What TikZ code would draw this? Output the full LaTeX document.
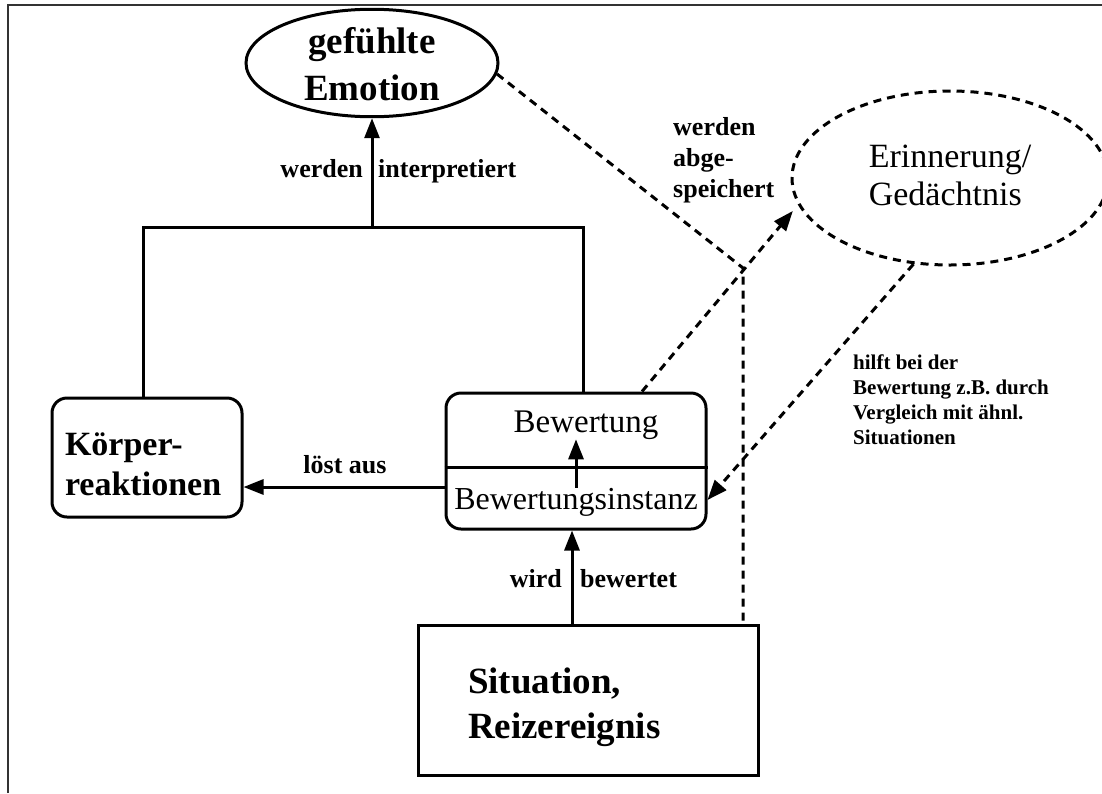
\documentclass[tikz,border=0pt]{standalone}
\usepackage{fontspec}
\setmainfont{Liberation Serif}
\usetikzlibrary{shapes.geometric,arrows.meta}
\begin{document}
\begin{tikzpicture}[x=1pt,y=-1pt,
  box/.style={draw, line width=3pt, inner sep=0pt},
  conn/.style={line width=3pt},
  arr/.style={line width=3pt, -{Triangle[length=20pt,width=15pt]}},
  dl/.style={line width=3pt, dash pattern=on 8pt off 6pt},
  darr/.style={dl, -{Triangle[length=20pt,width=15pt]}},
  lab/.style={font=\bfseries\fontsize{26}{31}\selectfont, inner sep=0pt},
]
\useasboundingbox (0,0) rectangle (1102,793);
\clip (0,0) rectangle (1102,793);
\fill[white] (0,0) rectangle (1102,793);
% frame
\draw[line width=1.5pt, black!80] (8,793) -- (8,5) -- (1102,5);

% nodes
\node[box, ellipse, minimum width=252pt, minimum height=100pt, align=center,
      font=\bfseries\fontsize{37}{47}\selectfont] (emo) at (372,63)
      {\rule{0pt}{28pt}gefühlte\\Emotion\rule[-1pt]{0pt}{1pt}};

\node[box, rounded corners=15pt, minimum height=119pt, text width=164pt, inner xsep=13pt,
      align=left, font=\bfseries\fontsize{34}{40}\selectfont] (koerper) at (147,457.5)
      {\rule{0pt}{37pt}Körper-\\reaktionen\rule[-2pt]{0pt}{2pt}};

\node[box, minimum height=150pt, text width=240pt, inner xsep=50pt, align=left,
      font=\bfseries\fontsize{37}{45}\selectfont] (sit) at (588,700)
      {\rule{0pt}{41pt}Situation,\\Reizereignis\rule[-10pt]{0pt}{10pt}};

\node[box, rounded corners=15pt, minimum width=260pt, minimum height=136pt] (bewbox) at (576,461) {};
\coordinate (dv) at (0,467);
\draw[conn] (bewbox.west |- dv) -- (bewbox.east |- dv);
\node[anchor=base, inner sep=0pt, font=\fontsize{33}{40}\selectfont] (bewtop) at (586,432) {Bewertung};
\node[anchor=base, inner sep=0pt, font=\fontsize{32}{40}\selectfont] (bewinst) at (576,509) {Bewertungsinstanz};

\node[draw, dl, ellipse, minimum width=316pt, minimum height=174pt, inner sep=0pt, align=left,
      font=\fontsize{34}{38}\selectfont] (erin) at (950,178)
      {\rule{0pt}{24pt}Erinnerung/\\Gedächtnis\rule[-8pt]{0pt}{8pt}};

% solid connectors
\coordinate (jl) at (143,227);
\coordinate (jr) at (583,227);
\coordinate (jc) at (372,227);
\draw[conn] (jl |- koerper.north) -- (jl) -- (jr) -- (jr |- bewbox.north);
\draw[arr] (jc) -- (emo.south);
\node[lab, anchor=base east] (l1a) at (363,177) {werden};
\node[lab, anchor=base west] (l1b) at (378,177) {interpretiert};

\coordinate (ay) at (0,487);
\draw[arr] (bewbox.west |- ay) -- (koerper.east |- ay);
\node[lab, anchor=base] (l2) at (345,473) {löst aus};

\draw[arr] (bewinst.north) -- (bewinst.north |- bewtop.south);

\coordinate (wx) at (572,0);
\draw[arr] (sit.north -| wx) -- (bewbox.south -| wx);
\node[lab, anchor=base east] (l3a) at (562,587) {wird};
\node[lab, anchor=base west] (l3b) at (580,587) {bewertet};

% dashed connectors
\coordinate (jd) at (743,268);
\draw[dl] (emo.-5) -- (jd) -- (jd |- sit.north);
\coordinate (bx) at (642,0);
\draw[darr, shorten >=8pt] (bewbox.north -| bx) -- (erin.190);
\coordinate (by) at (0,500);
\draw[darr] (erin.247) -- (bewbox.east |- by);

\node[lab, align=left, anchor=base west] (l4) at (673,197) {werden\\abge-\\speichert};
\node[font=\bfseries\fontsize{21}{25}\selectfont, inner sep=0pt, align=left, anchor=base west] (l5)
     at (853,444) {hilft bei der\\Bewertung z.B. durch\\Vergleich mit ähnl.\\Situationen};
\end{tikzpicture}
\end{document}
